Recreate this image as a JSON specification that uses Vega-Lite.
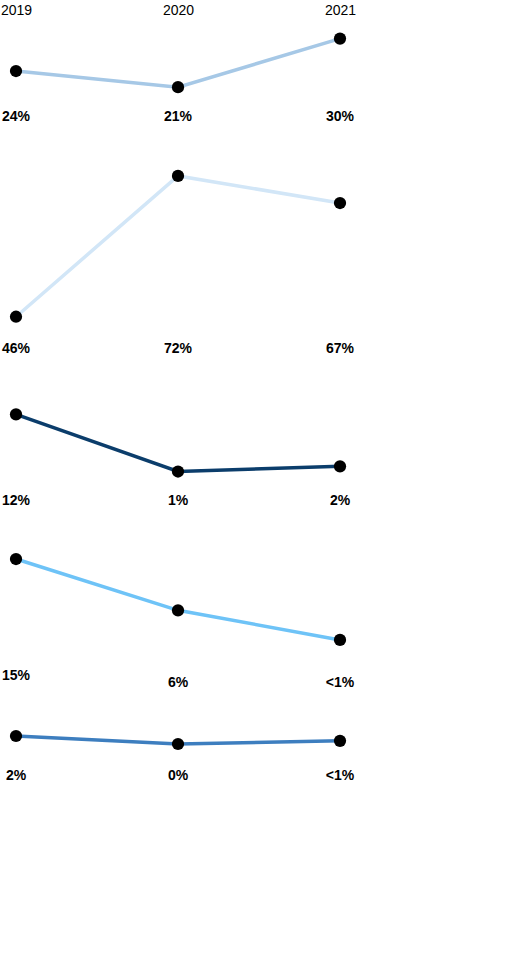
{
  "$schema": "https://vega.github.io/schema/vega-lite/v6.json",
  "autosize": "pad",
  "padding": {"top": 3, "left": 0, "right": 0, "bottom": 0},
  "background": "white",
  "bounds": "flush",
  "spacing": 20,
  "config": {
    "view": {"stroke": null},
    "font": "Liberation Sans",
    "text": {"font": "Liberation Sans"}
  },
  "data": {
    "values": [
      {"group": "g1", "year": "2019", "value": 24, "label": "24%"},
      {"group": "g1", "year": "2020", "value": 21, "label": "21%"},
      {"group": "g1", "year": "2021", "value": 30, "label": "30%"},
      {"group": "g2", "year": "2019", "value": 46, "label": "46%"},
      {"group": "g2", "year": "2020", "value": 72, "label": "72%"},
      {"group": "g2", "year": "2021", "value": 67, "label": "67%"},
      {"group": "g3", "year": "2019", "value": 12, "label": "12%"},
      {"group": "g3", "year": "2020", "value": 1, "label": "1%"},
      {"group": "g3", "year": "2021", "value": 2, "label": "2%"},
      {"group": "g4", "year": "2019", "value": 15, "label": "15%"},
      {"group": "g4", "year": "2020", "value": 6, "label": "6%"},
      {"group": "g4", "year": "2021", "value": 0.8, "label": "<1%"},
      {"group": "g5", "year": "2019", "value": 2, "label": "2%"},
      {"group": "g5", "year": "2020", "value": 0, "label": "0%"},
      {"group": "g5", "year": "2021", "value": 0.8, "label": "<1%"}
    ]
  },
  "resolve": {"scale": {"y": "independent"}},
  "vconcat": [
    {
      "width": 324,
      "height": 86,
      "transform": [{"filter": "datum.group == 'g1'"}],
      "encoding": {
        "x": {
          "field": "year", "type": "ordinal",
          "scale": {"type": "point", "padding": 0},
          "axis": {
            "orient": "top", "title": null, "domain": false, "ticks": false,
            "labelAngle": 0, "labelFontSize": 14, "labelColor": "black",
            "labelFont": "Liberation Sans", "labelPadding": 14
          }
        }
      },
      "layer": [
        {
          "mark": {"type": "line", "strokeWidth": 3.5},
          "encoding": {
            "y": {"field": "value", "type": "quantitative", "scale": {"domain": [15.48, 31.41], "nice": false, "zero": false}, "axis": null},
            "color": {"field": "group", "type": "nominal", "scale": {"domain": ["g1", "g2", "g3", "g4", "g5"], "range": ["#a6c8e6", "#d2e6f7", "#0b3d6b", "#6ec3f7", "#3d7ebf"]}, "legend": null}
          }
        },
        {
          "mark": {"type": "circle", "size": 150, "color": "black", "opacity": 1},
          "encoding": {"y": {"field": "value", "type": "quantitative"}}
        },
        {
          "mark": {"type": "text", "fontSize": 14, "fontWeight": "bold", "color": "black", "baseline": "middle"},
          "encoding": {"y": {"datum": 15.48, "type": "quantitative"}, "text": {"field": "label"}}
        }
      ]
    },
    {
      "width": 324,
      "height": 212,
      "transform": [{"filter": "datum.group == 'g2'"}],
      "encoding": {"x": {"field": "year", "type": "ordinal", "scale": {"type": "point", "padding": 0}, "axis": null}},
      "layer": [
        {
          "mark": {"type": "line", "strokeWidth": 3.5},
          "encoding": {
            "y": {"field": "value", "type": "quantitative", "scale": {"domain": [40.04, 79.19], "nice": false, "zero": false}, "axis": null},
            "color": {"field": "group", "type": "nominal", "legend": null}
          }
        },
        {
          "mark": {"type": "circle", "size": 150, "color": "black", "opacity": 1},
          "encoding": {"y": {"field": "value", "type": "quantitative"}}
        },
        {
          "mark": {"type": "text", "fontSize": 14, "fontWeight": "bold", "color": "black", "baseline": "middle"},
          "encoding": {"y": {"datum": 40.04, "type": "quantitative"}, "text": {"field": "label"}}
        }
      ]
    },
    {
      "width": 324,
      "height": 132,
      "transform": [{"filter": "datum.group == 'g3'"}],
      "encoding": {"x": {"field": "year", "type": "ordinal", "scale": {"type": "point", "padding": 0}, "axis": null}},
      "layer": [
        {
          "mark": {"type": "line", "strokeWidth": 3.5},
          "encoding": {
            "y": {"field": "value", "type": "quantitative", "scale": {"domain": [-4.67, 20.71], "nice": false, "zero": false}, "axis": null},
            "color": {"field": "group", "type": "nominal", "legend": null}
          }
        },
        {
          "mark": {"type": "circle", "size": 150, "color": "black", "opacity": 1},
          "encoding": {"y": {"field": "value", "type": "quantitative"}}
        },
        {
          "mark": {"type": "text", "fontSize": 14, "fontWeight": "bold", "color": "black", "baseline": "middle"},
          "encoding": {"y": {"datum": -4.67, "type": "quantitative"}, "text": {"field": "label"}}
        }
      ]
    },
    {
      "width": 324,
      "height": 161,
      "transform": [{"filter": "datum.group == 'g4'"}],
      "encoding": {"x": {"field": "year", "type": "ordinal", "scale": {"type": "point", "padding": 0}, "axis": null}},
      "layer": [
        {
          "mark": {"type": "line", "strokeWidth": 3.5},
          "encoding": {
            "y": {"field": "value", "type": "quantitative", "scale": {"domain": [-6.58, 21.67], "nice": false, "zero": false}, "axis": null},
            "color": {"field": "group", "type": "nominal", "legend": null}
          }
        },
        {
          "mark": {"type": "circle", "size": 150, "color": "black", "opacity": 1},
          "encoding": {"y": {"field": "value", "type": "quantitative"}}
        },
        {
          "mark": {"type": "text", "fontSize": 14, "fontWeight": "bold", "color": "black", "baseline": "middle", "dy": {"expr": "datum.year == '2019' ? -6 : 1"}},
          "encoding": {"y": {"datum": -6.58, "type": "quantitative"}, "text": {"field": "label"}}
        }
      ]
    },
    {
      "width": 324,
      "height": 74,
      "transform": [{"filter": "datum.group == 'g5'"}],
      "encoding": {"x": {"field": "year", "type": "ordinal", "scale": {"type": "point", "padding": 0}, "axis": null}},
      "layer": [
        {
          "mark": {"type": "line", "strokeWidth": 3.5},
          "encoding": {
            "y": {"field": "value", "type": "quantitative", "scale": {"domain": [-8, 10.5], "nice": false, "zero": false}, "axis": null},
            "color": {"field": "group", "type": "nominal", "legend": null}
          }
        },
        {
          "mark": {"type": "circle", "size": 150, "color": "black", "opacity": 1},
          "encoding": {"y": {"field": "value", "type": "quantitative"}}
        },
        {
          "mark": {"type": "text", "fontSize": 14, "fontWeight": "bold", "color": "black", "baseline": "middle"},
          "encoding": {"y": {"datum": -8, "type": "quantitative"}, "text": {"field": "label"}}
        }
      ]
    }
  ]
}
